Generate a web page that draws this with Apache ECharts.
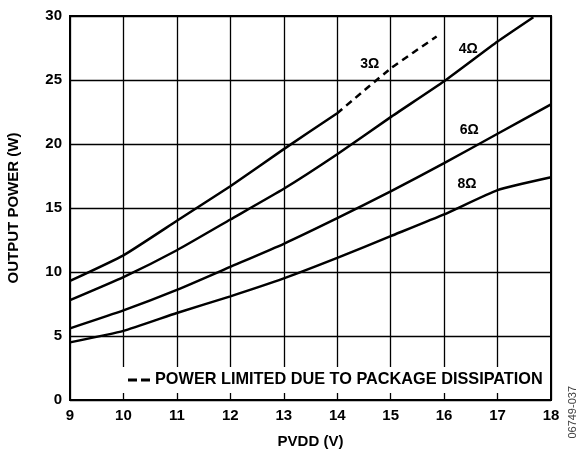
<!DOCTYPE html>
<html>
<head>
<meta charset="utf-8">
<script src="https://cdn.jsdelivr.net/npm/echarts@6/dist/echarts.min.js"></script>
<style>
  html, body { margin: 0; padding: 0; background: #fff; }
  #chart { width: 582px; height: 457px; }
</style>
</head>
<body>
<div id="chart"></div>
<script>
// PVDD (V) vs output power (W)
var ohm3 = [[9, 9.3], [10, 11.3], [11, 14.0], [12, 16.7], [13, 19.6], [14, 22.4]]
var ohm3Limited = [[14, 22.4], [15, 25.9], [15.86, 28.4]]
var ohm4 = [[9, 7.8], [10, 9.6], [11, 11.7], [12, 14.1], [13, 16.5], [14, 19.2], [15, 22.1], [16, 24.9], [17, 28.0], [17.67, 29.9]]
var ohm6 = [[9, 5.6], [10, 7.0], [11, 8.6], [12, 10.4], [13, 12.2], [14, 14.2], [15, 16.3], [16, 18.5], [17, 20.8], [18, 23.1]]
var ohm8 = [[9, 4.5], [10, 5.4], [11, 6.8], [12, 8.1], [13, 9.5], [14, 11.1], [15, 12.8], [16, 14.5], [17, 16.4], [18, 17.4]]

// curve labels, placed in data units
var curveNames = ['3Ω', '4Ω', '6Ω', '8Ω']
var curveLabelAt = [[14.61, 26.25], [16.45, 27.4], [16.47, 21.1], [16.43, 16.9]]

var limitedName = 'POWER LIMITED DUE TO PACKAGE DISSIPATION'

var font = 'Liberation Sans, Arial, sans-serif'

var chart = echarts.init(document.getElementById('chart'), null, { renderer: 'canvas' })

function labelPoint (i) {
  return {
    symbol: 'circle',
    symbolSize: 0,
    silent: true,
    label: {
      show: true,
      position: 'inside',
      formatter: curveNames[i],
      color: '#000',
      fontFamily: font,
      fontWeight: 'bold',
      fontSize: 14
    },
    data: [{ coord: curveLabelAt[i] }]
  }
}

function curve (name, data, i, dashed) {
  var s = {
    name: name,
    type: 'line',
    data: data,
    showSymbol: false,
    symbol: 'none',
    smooth: 0.15,
    lineStyle: { color: '#000', width: 2.5, type: dashed ? [7, 5] : 'solid' },
    itemStyle: { color: '#000' },
    z: 5
  }
  if (i != null) s.markPoint = labelPoint(i)
  return s
}

var option = {
  animation: false,
  backgroundColor: '#fff',
  grid: {
    left: 70,
    right: 31,
    top: 16,
    bottom: 57,
    outerBoundsMode: 'none',
    show: true,
    borderColor: '#000',
    borderWidth: 2
  },
  legend: {
    data: [{ name: limitedName, icon: 'path://M0,0h9v3h-9z M13,0h9v3h-9z' }],
    left: 122,
    top: 367,
    itemWidth: 22,
    itemHeight: 3,
    itemGap: 7,
    padding: [5, 6, 5, 6],
    backgroundColor: '#fff',
    selectedMode: false,
    textStyle: { color: '#000', fontFamily: font, fontWeight: 'bold', fontSize: 16.3 }
  },
  xAxis: {
    type: 'value',
    min: 9,
    max: 18,
    interval: 1,
    name: 'PVDD (V)',
    nameLocation: 'middle',
    nameGap: 34,
    nameTextStyle: { color: '#000', fontFamily: font, fontWeight: 'bold', fontSize: 15 },
    axisLine: { show: true, lineStyle: { color: '#000', width: 2 } },
    axisTick: { show: false },
    axisLabel: { color: '#000', fontFamily: font, fontWeight: 'bold', fontSize: 15, margin: 8 },
    splitLine: { show: true, lineStyle: { color: '#000', width: 1.3 } }
  },
  yAxis: {
    type: 'value',
    min: 0,
    max: 30,
    interval: 5,
    name: 'OUTPUT POWER (W)',
    nameLocation: 'middle',
    nameGap: 49,
    nameTextStyle: { color: '#000', fontFamily: font, fontWeight: 'bold', fontSize: 15 },
    axisLine: { show: true, lineStyle: { color: '#000', width: 2 } },
    axisTick: { show: false },
    axisLabel: { color: '#000', fontFamily: font, fontWeight: 'bold', fontSize: 15, margin: 8 },
    splitLine: { show: true, lineStyle: { color: '#000', width: 1.3 } }
  },
  graphic: [{
    type: 'text',
    left: 567,
    top: 386,
    rotation: Math.PI / 2,
    style: { text: '06749-037', fill: '#444', font: '11px ' + font }
  }],
  series: [
    curve('3Ω', ohm3, 0, false),
    curve(limitedName, ohm3Limited, null, true),
    curve('4Ω', ohm4, 1, false),
    curve('6Ω', ohm6, 2, false),
    curve('8Ω', ohm8, 3, false)
  ]
}

chart.setOption(option)
</script>
</body>
</html>
